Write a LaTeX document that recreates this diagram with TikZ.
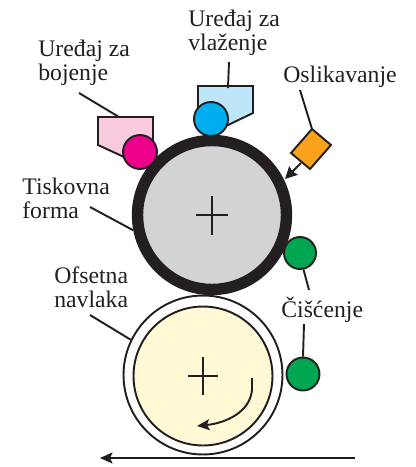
\documentclass[tikz,border=0pt]{standalone}
\usepackage{fontspec}
\setmainfont{Liberation Serif}
\usetikzlibrary{arrows.meta, calc, positioning}
\definecolor{inkdark}{RGB}{35,31,32}
\definecolor{plategray}{RGB}{209,211,212}
\definecolor{blanketyellow}{RGB}{255,249,214}
\definecolor{inkpink}{RGB}{249,203,223}
\definecolor{inkmagenta}{RGB}{236,0,140}
\definecolor{waterblue}{RGB}{189,230,250}
\definecolor{watercyan}{RGB}{0,174,239}
\definecolor{laserorange}{RGB}{250,162,27}
\definecolor{cleangreen}{RGB}{0,166,81}
\tikzset{
    label text/.style={inkdark, align=left, anchor=base west, inner sep=0pt, font=\fontsize{13.5}{13.6}\selectfont},
    roller/.style={circle, draw=inkdark, line width=1.1pt, inner sep=0pt},
    leader/.style={draw=inkdark, line width=1.1pt},
    unit box/.style={draw=inkdark, line width=1.1pt, line join=miter},
    travel/.style={draw=inkdark, line width=1.1pt, -{Stealth[length=2.5mm, width=2.2mm, inset=0.5mm]}}
}
\begin{document}
\begin{tikzpicture}[x=0.02cm, y=-0.02cm]
    \useasboundingbox (0,0) rectangle (416,467);

    % Inking and damping units
    \draw[unit box, fill=inkpink] (98,117) -- (153,117) -- (153,142) -- (124,157) -- (98,145) -- cycle;
    \draw[unit box, fill=waterblue] (198,86) -- (253,86) -- (253,113) -- (226,126) -- (198,112) -- cycle;

    % Cylinders
    \node[circle, draw=inkdark, line width=6.5pt, fill=plategray, inner sep=0pt, minimum size=2.98cm] (plate) at (212,215) {};
    \node[circle, draw=inkdark, line width=1.1pt, inner sep=0pt, minimum size=3.18cm] (blanket) at (203,375) {};
    \node[circle, draw=inkdark, line width=1.1pt, fill=blanketyellow, inner sep=0pt, minimum size=2.78cm] (blanketcore) at (203,376) {};

    % Rollers
    \node[roller, fill=inkmagenta, minimum size=0.68cm] (inkroller) at (140,152) {};
    \node[roller, fill=watercyan, minimum size=0.68cm] (waterroller) at (211,119) {};
    \node[roller, fill=cleangreen, minimum size=0.64cm] (cleanupper) at (300,253) {};
    \node[roller, fill=cleangreen, minimum size=0.66cm] (cleanlower) at (303,374) {};

    % Imaging head
    \draw[unit box, fill=laserorange] (312,129) coordinate (headtop) -- (331,145) -- (310,169) -- (291,153) -- cycle;
    \coordinate (headfoot) at (301,163);
    \coordinate (headtip) at (285,179);
    \draw[draw=inkdark, line width=1.1pt, -{Stealth[length=2.4mm, width=2.4mm, inset=0.3mm]}] (headfoot) -- (headtip);

    % Crosses
    \draw[leader] ($(plate)+(-16,0)$) -- ($(plate)+(16,0)$);
    \draw[leader] ($(plate)+(0,-19)$) -- ($(plate)+(0,20)$);
    \draw[leader] ($(blanketcore)+(-15,0)$) -- ($(blanketcore)+(15,0)$);
    \draw[leader] ($(blanketcore)+(0,-19)$) -- ($(blanketcore)+(0,19)$);

    % Rotation and sheet travel
    \coordinate (spinstart) at (252,378);
    \coordinate (spinend) at (197,426);
    \draw[travel] (spinstart) -- (252,390) .. controls (250,412) and (226,423) .. (spinend);
    \coordinate (sheetstart) at (355,458);
    \coordinate (sheetend) at (100,458);
    \draw[travel] (sheetstart) -- (sheetend);

    % Labels
    \node[label text] (lblbojenje) at (38,80) {Uređaj za\\bojenje};
    \node[label text] (lblvlazenje) at (188,50) {Uređaj za\\vlaženje};
    \node[label text] (lblslika) at (283,82) {Oslikavanje};
    \node[label text] (lblforma) at (22,218) {Tiskovna\\forma};
    \node[label text] (lblnavlaka) at (54,307) {Ofsetna\\navlaka};
    \node[label text] (lblcisti) at (281,317) {Čišćenje};

    % Leaders
    \coordinate (bojenjefoot) at (79,93);
    \coordinate (bojenjebox) at (119,117);
    \coordinate (vlazenjefoot) at (229,62);
    \coordinate (vlazenjebox) at (228,88);
    \coordinate (slikafoot) at (300,90);
    \coordinate (formafoot) at (90,207);
    \coordinate (navlakafoot) at (90,315);
    \coordinate (cistiup) at (309,290);
    \coordinate (cistidown) at (304,324);
    \draw[leader] (bojenjefoot) -- (bojenjebox);
    \draw[leader] (vlazenjefoot) -- (vlazenjebox);
    \draw[leader] (slikafoot) -- (headtop);
    \draw[leader] (formafoot) -- (plate.191);
    \draw[leader] (navlakafoot) -- (blanket.154);
    \draw[leader] (cistiup) -- (cleanupper.282);
    \draw[leader] (cistidown) -- (cleanlower.north);
\end{tikzpicture}
\end{document}
